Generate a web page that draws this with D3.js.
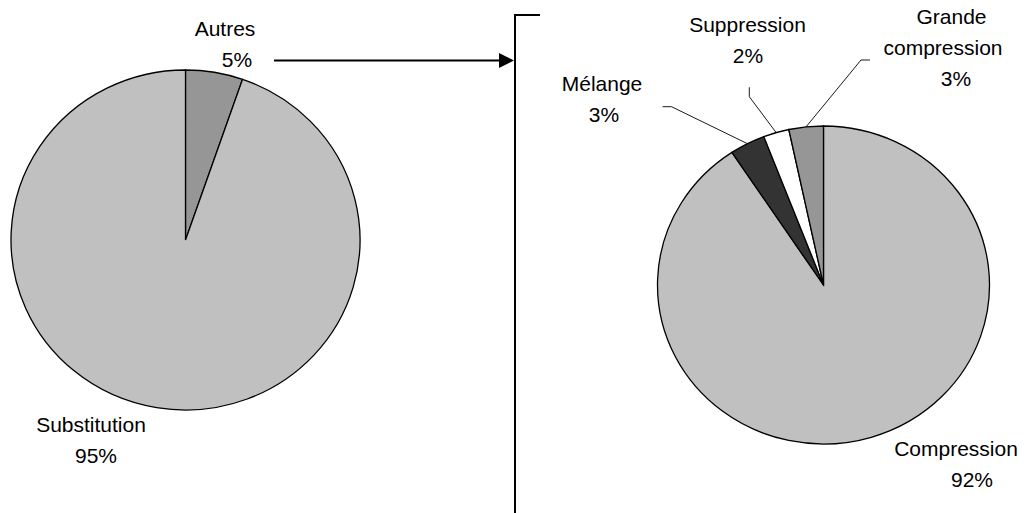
<!DOCTYPE html>
<html>
<head>
<meta charset="utf-8">
<script src="https://cdn.jsdelivr.net/npm/d3@7"></script>
<style>
  body { margin: 0; background: #fff; }
  text { font-family: "Liberation Sans", Arial, sans-serif; font-size: 21px; fill: #000; }
</style>
</head>
<body>
<div id="chart"></div>
<script>
// data
const leftNames = ["Autres", "Substitution"]
const leftValues = [5.3, 94.7]
const leftLabels = ["5%", "95%"]

const rightNames = ["Compression", "Mélange", "Suppression", "Grande compression"]
const rightValues = [90.7, 3.45, 2.5, 3.35]
const rightLabels = ["92%", "3%", "2%", "3%"]

// const
const width = 1028
const height = 513
const lineH = 31

const svg = d3.select("#chart")
  .append("svg")
    .attr("width", width)
    .attr("height", height)

const leftColor = d3.scaleOrdinal().domain(leftNames).range(["#969696", "#c0c0c0"])
const rightColor = d3.scaleOrdinal().domain(rightNames).range(["#c0c0c0", "#333333", "#ffffff", "#969696"])

const pie = d3.pie().sort(null).value(d => d.value)

// draws an elliptic pie: group scaled in x
function drawPie(names, values, color, cx, cy, rx, ry) {
  const data = names.map((n, i) => ({ name: n, value: values[i] }))
  const arcs = pie(data)
  const arc = d3.arc().innerRadius(0).outerRadius(ry)
  const g = svg.append("g")
    .attr("transform", `translate(${cx},${cy}) scale(${rx / ry},1)`)
  g.selectAll("path")
    .data(arcs)
    .join("path")
      .attr("d", arc)
      .attr("fill", d => color(d.data.name))
      .attr("stroke", "#000")
      .attr("stroke-width", 1.3)
      .attr("vector-effect", "non-scaling-stroke")
  // point on the rim at mid angle, in page coords
  return arcs.map(a => {
    const m = (a.startAngle + a.endAngle) / 2
    return { name: a.data.name, x: cx + rx * Math.sin(m), y: cy - ry * Math.cos(m) }
  })
}

function label(lines, x, y) {
  const t = svg.append("text").attr("text-anchor", "middle")
  lines.forEach((l, i) => {
    t.append("tspan").attr("x", Array.isArray(x) ? x[i] : x).attr("y", y + i * lineH).text(l)
  })
}

// left pie
drawPie(leftNames, leftValues, leftColor, 185.5, 240, 174.5, 170)
label([leftNames[0], leftLabels[0]], [225, 237], 36)
label([leftNames[1], leftLabels[1]], [91, 96], 431.5)

// right pie
const rim = drawPie(rightNames, rightValues, rightColor, 823.5, 285, 166, 159)
const rimOf = n => rim.find(r => r.name === n)

label([rightNames[0], rightLabels[0]], [956, 972], 455.5)
label([rightNames[1], rightLabels[1]], [602, 604], 90.5)
label([rightNames[2], rightLabels[2]], [747.5, 748], 32.3)
label(["Grande", "compression", rightLabels[3]], [951.5, 943, 956], 24)

// leader lines
const leaders = [
  { name: "Mélange", pts: [[662.5, 106.7], [671.5, 106.7]] },
  { name: "Suppression", pts: [[749.3, 87.3], [749.3, 96.7]] },
  { name: "Grande compression", pts: [[870, 60], [861, 60]] }
]
leaders.forEach(l => {
  const r = rimOf(l.name)
  svg.append("path")
    .attr("d", d3.line()([...l.pts, [r.x, r.y]]))
    .attr("fill", "none")
    .attr("stroke", "#000")
    .attr("stroke-width", 0.9)
})

// bracket + arrow
svg.append("path")
  .attr("d", d3.line()([[540, 15], [515, 15], [515, 513]]))
  .attr("fill", "none")
  .attr("stroke", "#000")
  .attr("stroke-width", 2)

svg.append("line")
  .attr("x1", 274).attr("y1", 60.5)
  .attr("x2", 500).attr("y2", 60.5)
  .attr("stroke", "#000")
  .attr("stroke-width", 2)

svg.append("path")
  .attr("d", d3.line()([[499, 53], [514, 60.5], [499, 68]]) + "Z")
  .attr("fill", "#000")
</script>
</body>
</html>
